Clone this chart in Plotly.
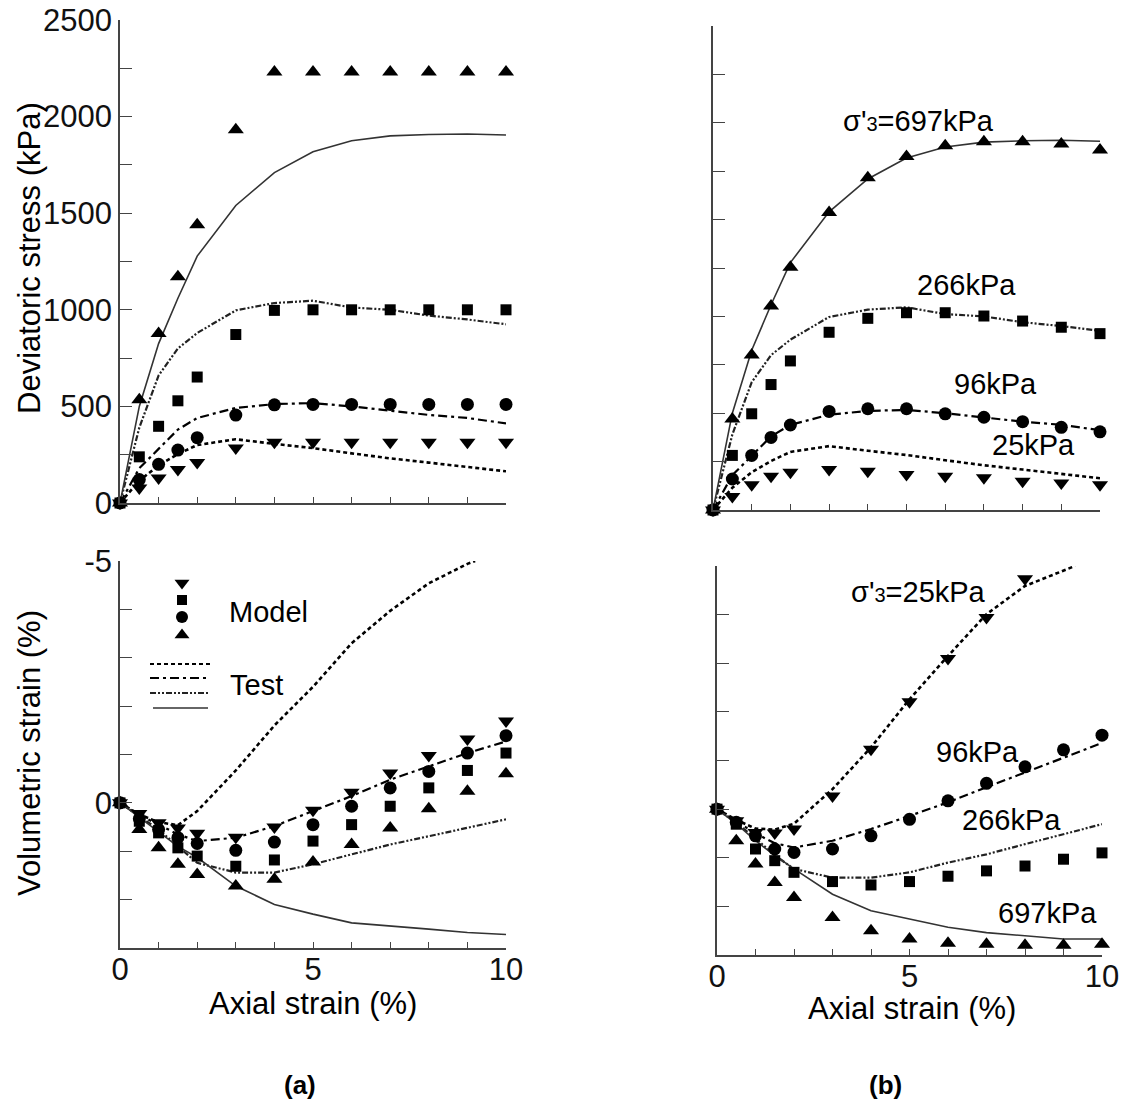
import plotly.graph_objects as go

# ---------------- data ----------------
STRAIN = [0, 0.5, 1, 1.5, 2, 3, 4, 5, 6, 7, 8, 9, 10]
STRAIN_DASH_A = [0, 0.5, 1, 1.5, 2, 3, 4, 5, 6, 7, 8, 9, 9.2]
STRAIN_DASH_B = [0, 0.5, 1, 1.5, 2, 3, 4, 5, 6, 7, 8, 9, 9.3]

# deviatoric stress, test (kPa)
test_q_25 = [0, 115, 195, 253, 300, 330, 306, 284, 257, 231, 209, 188, 164]
test_q_96 = [0, 180, 280, 380, 440, 492, 512, 517, 500, 477, 456, 440, 412]
test_q_266 = [0, 390, 660, 800, 880, 997, 1035, 1047, 1012, 1000, 970, 950, 925]
test_q_697 = [0, 500, 825, 1060, 1278, 1540, 1710, 1818, 1875, 1900, 1907, 1910, 1905]

# deviatoric stress, model (a)
a_q_25 = [0, 77, 130, 174, 209, 285, 315, 315, 315, 315, 315, 315, 315]
a_q_96 = [0, 121, 200, 274, 338, 455, 508, 510, 510, 510, 510, 510, 510]
a_q_266 = [0, 239, 397, 529, 652, 872, 997, 1000, 1000, 1000, 1000, 1000, 1000]
a_q_697 = [0, 535, 877, 1171, 1440, 1932, 2231, 2231, 2231, 2231, 2231, 2231, 2231]

# deviatoric stress, model (b)
b_q_25 = [0, 70, 131, 174, 195, 209, 200, 183, 174, 166, 148, 139, 131]
b_q_96 = [0, 160, 282, 375, 439, 509, 523, 523, 497, 479, 456, 427, 404]
b_q_266 = [0, 282, 497, 648, 770, 918, 990, 1019, 1019, 1002, 976, 944, 911]
b_q_697 = [0, 470, 801, 1054, 1254, 1537, 1716, 1826, 1882, 1902, 1902, 1890, 1859]

# volumetric strain, test (%)  (a) panel
a_tv_25 = [0, 0.24, 0.40, 0.46, 0.17, -0.67, -1.60, -2.40, -3.30, -3.97, -4.54, -4.94, -5.0]
a_tv_96 = [0, 0.25, 0.45, 0.65, 0.79, 0.72, 0.48, 0.17, -0.14, -0.48, -0.76, -1.03, -1.27]
a_tv_266 = [0, 0.27, 0.55, 0.90, 1.24, 1.44, 1.44, 1.27, 1.07, 0.86, 0.69, 0.52, 0.34]
a_tv_697 = [0, 0.30, 0.60, 0.90, 1.13, 1.72, 2.10, 2.30, 2.48, 2.54, 2.61, 2.68, 2.72]

# volumetric strain, test (%)  (b) panel
b_tv_25 = [0, 0.22, 0.40, 0.42, 0.30, -0.41, -1.27, -2.26, -3.15, -4.01, -4.59, -4.90, -5.0]
b_tv_96 = [0, 0.25, 0.50, 0.70, 0.79, 0.65, 0.41, 0.14, -0.14, -0.45, -0.75, -1.06, -1.36]
b_tv_266 = [0, 0.28, 0.60, 0.95, 1.23, 1.41, 1.41, 1.30, 1.10, 0.93, 0.72, 0.51, 0.31]
b_tv_697 = [0, 0.30, 0.65, 0.95, 1.23, 1.75, 2.09, 2.26, 2.43, 2.54, 2.60, 2.67, 2.67]

# volumetric strain, model (a)
a_mv_25 = [0, 0.22, 0.41, 0.52, 0.63, 0.71, 0.50, 0.15, -0.22, -0.62, -0.98, -1.32, -1.69]
a_mv_96 = [0, 0.33, 0.55, 0.72, 0.84, 0.98, 0.81, 0.45, 0.07, -0.31, -0.65, -1.03, -1.39]
a_mv_266 = [0, 0.38, 0.62, 0.93, 1.10, 1.31, 1.18, 0.79, 0.45, 0.07, -0.31, -0.67, -1.03]
a_mv_697 = [0, 0.55, 0.93, 1.27, 1.48, 1.72, 1.58, 1.22, 0.86, 0.52, 0.12, -0.24, -0.60]

# volumetric strain, model (b)
b_mv_25 = [0, 0.24, 0.48, 0.49, 0.41, -0.27, -1.23, -2.21, -3.10, -3.94, -4.74, None, None]
b_mv_96 = [0, 0.27, 0.55, 0.82, 0.89, 0.82, 0.55, 0.21, -0.17, -0.53, -0.87, -1.22, -1.52]
b_mv_266 = [0, 0.31, 0.82, 1.06, 1.30, 1.49, 1.56, 1.49, 1.38, 1.27, 1.17, 1.03, 0.90]
b_mv_697 = [0, 0.65, 1.13, 1.51, 1.82, 2.23, 2.50, 2.67, 2.76, 2.78, 2.80, 2.80, 2.78]

Q_TICKS = [0, 250, 500, 750, 1000, 1250, 1500, 1750, 2000, 2250, 2500]
Q_TICKTEXT = ["0", "", "500", "", "1000", "", "1500", "", "2000", "", "2500"]
V_TICKS = [-5, -4, -3, -2, -1, 0, 1, 2, 3]
V_TICKTEXT = ["-5", "", "", "", "", "0", "", "", ""]
X_TICKS = [0, 1, 2, 3, 4, 5, 6, 7, 8, 9, 10]
X_TICKTEXT = ["0", "", "", "", "", "5", "", "", "", "", "10"]

# ---------------- layout / styles ----------------
W, H = 1129, 1109
FONT = "Liberation Sans, Arial, Helvetica, sans-serif"
AXC = "#444444"


def fx(p):
    return p / W


def fy(p):
    return 1 - p / H


PANELS = {
    "1": dict(x=(120, 506), y=(20, 503)),
    "2": dict(x=(713, 1100), y=(26, 510)),
    "3": dict(x=(120, 506), y=(561, 948)),
    "4": dict(x=(717, 1102), y=(566, 955)),
}

LINE_STYLES = {
    "25": dict(color="black", width=2.6, dash="4px,3px"),
    "96": dict(color="black", width=2.2, dash="9px,4px,3px,4px"),
    "266": dict(color="#222222", width=2.2, dash="6px,2px,2px,2px,2px,2px"),
    "697": dict(color="#333333", width=1.6, dash="solid"),
}
MARKERS = {
    "25": dict(symbol="triangle-down", size=14),
    "96": dict(symbol="circle", size=13),
    "266": dict(symbol="square", size=11),
    "697": dict(symbol="triangle-up", size=14),
}

fig = go.Figure()


def add_line(ax, x, y, key):
    xa = "x" if ax == "1" else "x" + ax
    ya = "y" if ax == "1" else "y" + ax
    fig.add_trace(go.Scatter(x=x, y=y, mode="lines", line=LINE_STYLES[key],
                             xaxis=xa, yaxis=ya, showlegend=False, hoverinfo="skip"))


def add_markers(ax, x, y, key):
    xa = "x" if ax == "1" else "x" + ax
    ya = "y" if ax == "1" else "y" + ax
    m = MARKERS[key]
    fig.add_trace(go.Scatter(x=x, y=y, mode="markers",
                             marker=dict(symbol=m["symbol"], size=m["size"], color="black",
                                         line=dict(width=0)),
                             cliponaxis=False, xaxis=xa, yaxis=ya, showlegend=False,
                             hoverinfo="skip"))


# panel (a) top
for key, yv in [("25", test_q_25), ("96", test_q_96), ("266", test_q_266), ("697", test_q_697)]:
    add_line("1", STRAIN, yv, key)
for key, yv in [("25", a_q_25), ("96", a_q_96), ("266", a_q_266), ("697", a_q_697)]:
    add_markers("1", STRAIN, yv, key)

# panel (b) top
for key, yv in [("25", test_q_25), ("96", test_q_96), ("266", test_q_266), ("697", test_q_697)]:
    add_line("2", STRAIN, yv, key)
for key, yv in [("25", b_q_25), ("96", b_q_96), ("266", b_q_266), ("697", b_q_697)]:
    add_markers("2", STRAIN, yv, key)

# panel (a) bottom
add_line("3", STRAIN_DASH_A, a_tv_25, "25")
for key, yv in [("96", a_tv_96), ("266", a_tv_266), ("697", a_tv_697)]:
    add_line("3", STRAIN, yv, key)
for key, yv in [("25", a_mv_25), ("266", a_mv_266), ("96", a_mv_96), ("697", a_mv_697)]:
    add_markers("3", STRAIN, yv, key)

# panel (b) bottom
add_line("4", STRAIN_DASH_B, b_tv_25, "25")
for key, yv in [("96", b_tv_96), ("266", b_tv_266), ("697", b_tv_697)]:
    add_line("4", STRAIN, yv, key)
for key, yv in [("25", b_mv_25), ("266", b_mv_266), ("96", b_mv_96), ("697", b_mv_697)]:
    add_markers("4", STRAIN, yv, key)

# ---------------- legend (drawn on an overlay pixel axis) ----------------
LEG_MARK_X = 182
LEG_MARK_Y = {"25": 583, "266": 600, "96": 617, "697": 635}
LEG_MARK_SIZE = {"25": 13, "266": 10, "96": 12, "697": 13}
for key in ["25", "266", "96", "697"]:
    fig.add_trace(go.Scatter(x=[LEG_MARK_X], y=[LEG_MARK_Y[key]], mode="markers",
                             marker=dict(symbol=MARKERS[key]["symbol"], size=LEG_MARK_SIZE[key],
                                         color="black", line=dict(width=0)),
                             xaxis="x5", yaxis="y5", showlegend=False, hoverinfo="skip",
                             cliponaxis=False))
LEG_LINES = [("25", 150, 210, 664), ("96", 150, 210, 678), ("266", 150, 210, 693), ("697", 153, 208, 708)]
for key, x0, x1, yy in LEG_LINES:
    st = dict(LINE_STYLES[key])
    st["width"] = min(st["width"], 2.0)
    fig.add_trace(go.Scatter(x=[x0, x1], y=[yy, yy], mode="lines", line=st,
                             xaxis="x5", yaxis="y5", showlegend=False, hoverinfo="skip"))

# ---------------- axes ----------------
tickfont = dict(family=FONT, size=31, color="#111111")
common = dict(showgrid=False, zeroline=False, showline=True, linecolor=AXC, linewidth=1.6,
              ticks="inside", tickcolor=AXC, tickwidth=1.4, mirror=False, automargin=False)

layout_axes = {}
for ax, p in PANELS.items():
    xk = "xaxis" if ax == "1" else "xaxis" + ax
    yk = "yaxis" if ax == "1" else "yaxis" + ax
    anchor_x = "y" if ax == "1" else "y" + ax
    anchor_y = "x" if ax == "1" else "x" + ax
    bottom = ax in ("3", "4")
    layout_axes[xk] = dict(common, domain=[fx(p["x"][0]), fx(p["x"][1])], range=[0, 10],
                           anchor=anchor_x, tickvals=X_TICKS, ticktext=X_TICKTEXT,
                           showticklabels=bottom, ticklen=6, tickfont=tickfont,
                           ticklabelstandoff=-7)
    if bottom:
        layout_axes[yk] = dict(common, domain=[fy(p["y"][1]), fy(p["y"][0])], range=[3, -5],
                               anchor=anchor_y, tickvals=V_TICKS, ticktext=V_TICKTEXT,
                               showticklabels=(ax == "3"), ticklen=12, tickfont=tickfont)
    else:
        layout_axes[yk] = dict(common, domain=[fy(p["y"][1]), fy(p["y"][0])], range=[0, 2500],
                               anchor=anchor_y, tickvals=Q_TICKS, ticktext=Q_TICKTEXT,
                               showticklabels=(ax == "1"), ticklen=12, tickfont=tickfont)

layout_axes["xaxis5"] = dict(domain=[0, 1], range=[0, W], visible=False, anchor="y5",
                             fixedrange=True, automargin=False)
layout_axes["yaxis5"] = dict(domain=[0, 1], range=[H, 0], visible=False, anchor="x5",
                             fixedrange=True, automargin=False)

# ---------------- annotations ----------------
TXT = 29
ann = []


def add_text(text, x, y, size=TXT, angle=0, bold=False):
    ann.append(dict(text=("<b>%s</b>" % text) if bold else text, x=fx(x), y=fy(y),
                    xref="paper", yref="paper", showarrow=False, textangle=angle,
                    xanchor="center", yanchor="middle",
                    font=dict(family=FONT, size=size, color="black")))


SUB3 = "<span style='font-size:20px'>3</span>"
add_text("Deviatoric stress (kPa)", 29, 258, size=31, angle=-90)
add_text("Volumetric strain (%)", 29, 753, size=31, angle=-90)
add_text("Axial strain (%)", 313, 1003, size=31)
add_text("Axial strain (%)", 912, 1008, size=31)
add_text("(a)", 300, 1085, size=26, bold=True)
add_text("(b)", 885, 1085, size=26, bold=True)

add_text("σ'" + SUB3 + "=697kPa", 918, 121)
add_text("266kPa", 966, 285)
add_text("96kPa", 995, 384)
add_text("25kPa", 1033, 445)

add_text("σ'" + SUB3 + "=25kPa", 918, 592)
add_text("96kPa", 977, 752)
add_text("266kPa", 1012, 820)
add_text("697kPa", 1047, 913)

add_text("Model", 268, 612)
add_text("Test", 256, 685)

fig.update_layout(
    width=W, height=H, margin=dict(l=0, r=0, t=0, b=0, pad=0),
    paper_bgcolor="white", plot_bgcolor="rgba(0,0,0,0)",
    font=dict(family=FONT, color="black"),
    showlegend=False, annotations=ann, **layout_axes,
)

fig.write_html("out.html")
